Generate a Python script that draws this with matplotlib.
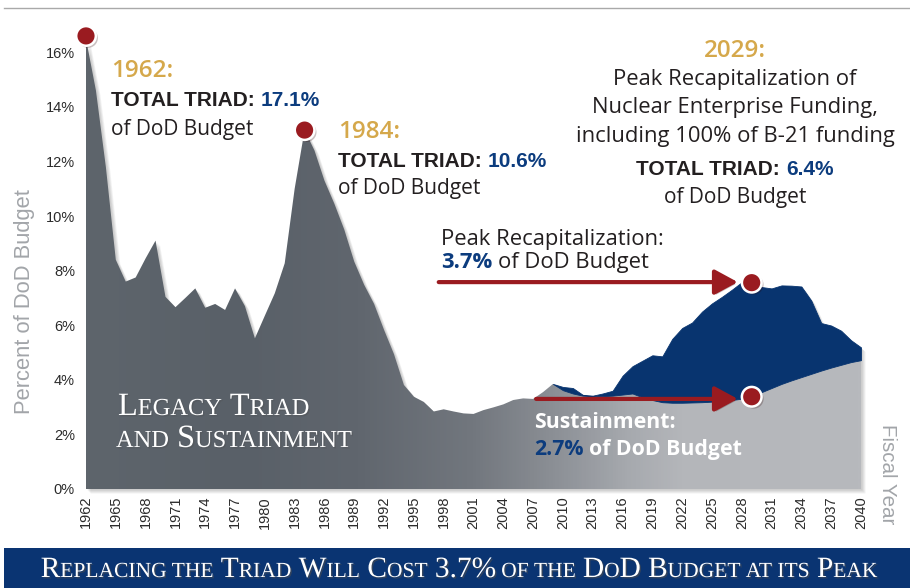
import numpy as np
import matplotlib.pyplot as plt
import matplotlib.transforms as mtransforms
import matplotlib.patheffects as pe
from matplotlib.colors import LinearSegmentedColormap
from matplotlib.patches import Rectangle
from matplotlib.lines import Line2D

W, H = 910, 588

# legacy triad, share of DoD budget (%)
hist_years = np.arange(1962, 2010)
hist_pct = [16.5, 14.6, 11.8, 8.4, 7.6, 7.75, 8.45, 9.1, 7.04, 6.66,
            7.0, 7.35, 6.64, 6.78, 6.56, 7.35, 6.7, 5.52, 6.35, 7.17,
            8.27, 11.0, 13.15, 12.4, 11.3, 10.45, 9.5, 8.33, 7.48, 6.78,
            5.83, 4.94, 3.81, 3.38, 3.19, 2.84, 2.92, 2.84, 2.77, 2.75,
            2.89, 2.99, 3.1, 3.26, 3.32, 3.3, 3.55, 3.85]

# projection: sustainment and total (sustainment + recapitalization)
proj_years = np.arange(2009, 2041)
sustain_pct = [3.85, 3.62, 3.5, 3.42, 3.4, 3.4, 3.42, 3.46, 3.5, 3.36,
               3.26, 3.18, 3.16, 3.16, 3.17, 3.18, 3.2, 3.22, 3.26, 3.31,
               3.38, 3.55, 3.7, 3.85, 3.98, 4.1, 4.22, 4.34, 4.45, 4.55,
               4.65, 4.72]
total_pct = [3.85, 3.74, 3.7, 3.45, 3.42, 3.5, 3.6, 4.15, 4.5, 4.7,
             4.9, 4.86, 5.5, 5.9, 6.1, 6.5, 6.8, 7.04, 7.3, 7.58,
             7.56, 7.4, 7.35, 7.46, 7.45, 7.42, 6.9, 6.08, 5.99, 5.8,
             5.45, 5.19]

tick_years = np.arange(1962, 2041, 3)
y_ticks = np.arange(0, 17, 2)

peak_years = [1962, 1984, 2029, 2029]
peak_vals = [16.6, 13.15, 7.56, 3.38]

GOLD = '#d5a84b'
NAVY = '#0c3c7e'
INK = '#231f20'
RED = '#9a1b20'
BLUE_AREA = '#08346f'
BANNER = '#0a3472'

plt.rcParams['font.family'] = ['Open Sans', 'DejaVu Sans']

fig = plt.figure(figsize=(W / 100, H / 100), dpi=100)
fig.patch.set_facecolor('white')
ax = fig.add_axes([86 / W, (H - 489) / H, 775 / W, 464 / H])

all_years = np.concatenate([hist_years, proj_years[1:]])
gray_top = np.concatenate([hist_pct, sustain_pct[1:]])
all_top = np.concatenate([hist_pct, total_pct[1:]])

# soft drop shadow
for k in (1, 2, 3, 4):
    off = mtransforms.ScaledTranslation(k / 100, -k / 100, fig.dpi_scale_trans)
    ax.fill_between(all_years, 0, all_top, color='k', alpha=0.05, lw=0,
                    transform=ax.transData + off, zorder=1, clip_on=False)

# gray area with horizontal gradient
poly = ax.fill_between(all_years, 0, gray_top, facecolor='none',
                       edgecolor='none', zorder=2)
gray_cmap = LinearSegmentedColormap.from_list('legacy', [
    (0.0, '#5e656c'), (0.2, '#596068'), (0.35, '#60666e'),
    (0.5, '#72777e'), (0.6, '#8a8e94'), (0.7, '#a6a9ae'),
    (0.77, '#b4b6ba'), (1.0, '#b7b9bd')])
grad = np.linspace(0, 1, 600).reshape(1, -1)
im = ax.imshow(grad, cmap=gray_cmap, extent=(1962, 2040, 0, 17),
               aspect='auto', origin='lower', zorder=2)
im.set_clip_path(poly.get_paths()[0], transform=ax.transData)

# recapitalization on top of sustainment
ax.fill_between(proj_years, sustain_pct, total_pct, color=BLUE_AREA,
                lw=0.6, edgecolor=BLUE_AREA, zorder=3)

ax.set_xlim(1962, 2040)
ax.set_ylim(0, 17)
for s in ax.spines.values():
    s.set_visible(False)
ax.set_xticks(tick_years)
ax.set_xticklabels([str(y) for y in tick_years], rotation=90,
                   family='Liberation Sans', fontsize=10.5, color='#2b2b2b')
ax.set_yticks(y_ticks)
ax.set_yticklabels(['%d%%' % v for v in y_ticks],
                   family='Liberation Sans', fontsize=10.5, color='#2b2b2b')
ax.tick_params(length=0)
ax.tick_params(axis='x', pad=5)
ax.tick_params(axis='y', pad=8)

# arrows
shadow = [pe.withSimplePatchShadow(offset=(1.5, -1.5), alpha=0.25)]
for x0, yv in [(1997.5, 7.58), (2007.3, 3.30)]:
    ann = ax.annotate('', xy=(2027.6, yv), xytext=(x0, yv),
                      arrowprops=dict(arrowstyle='-|>,head_length=0.7,head_width=0.38',
                                      color=RED, lw=3, shrinkA=0, shrinkB=0,
                                      mutation_scale=20), zorder=5)
    ann.arrow_patch.set_path_effects(shadow)

ax.scatter(peak_years, peak_vals, s=200, color=RED, edgecolor='white',
           linewidth=1.8, zorder=6, clip_on=False, path_effects=shadow)

# ---- text helpers (pixel positions, y from top) ----
renderer = fig.canvas.get_renderer()
ident = mtransforms.IdentityTransform()


def txt_w(s, **kw):
    t = fig.text(0, 0, s, **kw)
    w = t.get_window_extent(renderer).width
    t.remove()
    return w


def put_line(x, y, parts, ha='left'):
    items = []
    total = 0
    for s, props in parts:
        body = s.lstrip(' ')
        gap = (len(s) - len(body)) * (txt_w('x x', **props) - txt_w('xx', **props))
        w = txt_w(body, **props)
        items.append((body, props, gap, w))
        total += gap + w
    xc = x - total / 2 if ha == 'center' else x
    for body, props, gap, w in items:
        xc += gap
        fig.text(xc, H - y, body, transform=ident, va='baseline', ha='left', **props)
        xc += w


def caps_parts(s, big, small, **props):
    parts = []
    for i, word in enumerate(s.split(' ')):
        lead = ' ' if i else ''
        run, run_sz = '', None
        for ch in word:
            sz = small if ch.islower() else big
            if run and sz != run_sz:
                parts.append((lead + run, dict(props, fontsize=run_sz)))
                lead = ''
                run = ''
            run += ch.upper()
            run_sz = sz
        parts.append((lead + run, dict(props, fontsize=run_sz)))
    return parts


reg = dict(color=INK, fontsize=15)
desc = dict(color=INK, fontsize=15.8)
bold = dict(color=INK, fontsize=15, weight='bold', family='Liberation Sans')
blue = dict(color=NAVY, fontsize=15, weight='bold', family='Liberation Sans')
year = dict(color=GOLD, fontsize=17.5, weight=600)

# 1962
put_line(111, 77, [('1962:', year)])
put_line(111, 106, [('TOTAL TRIAD:', bold), (' 17.1%', blue)])
put_line(111, 135, [('of DoD Budget', reg)])
# 1984
put_line(338, 138, [('1984:', year)])
put_line(338, 167, [('TOTAL TRIAD:', bold), (' 10.6%', blue)])
put_line(338, 194, [('of DoD Budget', reg)])
# 2029
put_line(735, 57, [('2029:', year)], ha='center')
put_line(735, 85, [('Peak Recapitalization of', desc)], ha='center')
put_line(735, 113, [('Nuclear Enterprise Funding,', desc)], ha='center')
put_line(735, 142, [('including 100% of B-21 funding', desc)], ha='center')
put_line(735, 175, [('TOTAL TRIAD:', bold), (' 6.4%', blue)], ha='center')
put_line(735, 203, [('of DoD Budget', reg)], ha='center')

# arrow labels
put_line(441, 245, [('Peak Recapitalization:', desc)])
put_line(441, 268, [('3.7%', dict(desc, color=NAVY, weight='bold')),
                    (' of DoD Budget', desc)])
wht = dict(color='white', fontsize=15.3, weight='bold')
put_line(534, 428, [('Sustainment:', wht)])
put_line(534, 455, [('2.7%', dict(wht, color=NAVY)), (' of DoD Budget', wht)])

# legacy label
serif = dict(color='white', family='Liberation Serif',
             path_effects=[pe.withSimplePatchShadow(offset=(1, -1), alpha=0.35)])
put_line(118, 415, caps_parts('Legacy Triad', 23.4, 17.6, **serif))
put_line(116, 447, caps_parts('and Sustainment', 23.4, 17.6, **serif))

# axis titles
fig.text(25 / W, 1 - 302 / H, 'Percent of DoD Budget', rotation=90,
         ha='center', va='center', fontsize=15.8, color='#a2a5a9',
         family='Liberation Sans')
fig.text(888 / W, 1 - 474 / H, 'Fiscal Year', rotation=270,
         ha='center', va='center', fontsize=14.8, color='#a2a5a9',
         family='Liberation Sans')

# top rule and bottom banner
fig.add_artist(Line2D([4 / W, 1], [1 - 8 / H, 1 - 8 / H], color='#a9a9a9', lw=1))
fig.add_artist(Rectangle((4 / W, 0), 1, 40 / H, color=BANNER, lw=0))
put_line(459, 577, caps_parts('Replacing the Triad Will Cost 3.7% of the DoD Budget at its Peak',
                              21.2, 15.5, color='white', family='Liberation Serif',
                              path_effects=[pe.withSimplePatchShadow(offset=(1, -1), alpha=0.6)]),
         ha='center')

fig.savefig('out.png', dpi=100)
